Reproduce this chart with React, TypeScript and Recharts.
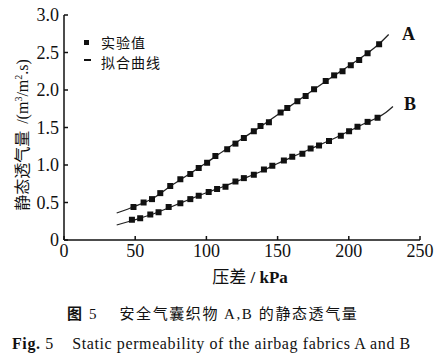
import React from "react";
import { ComposedChart, Line, Scatter, XAxis, YAxis } from "recharts";

// Experimental points, series A (pressure difference kPa, permeability m3/(m2·s))
const expAx = [48.8, 55.9, 61.8, 67.6, 74.6, 81.7, 88.7, 94.6, 100.5, 106.3, 114.6, 120.4, 126.3, 133.3, 138.0, 143.9, 152.1, 156.8, 163.9, 169.7, 175.6, 183.8, 189.7, 195.6, 201.4, 207.3, 213.2, 221.3];
const expAy = [0.44, 0.5, 0.545, 0.625, 0.72, 0.81, 0.88, 0.96, 1.03, 1.12, 1.21, 1.285, 1.36, 1.45, 1.52, 1.57, 1.7, 1.76, 1.85, 1.92, 2.01, 2.12, 2.195, 2.25, 2.33, 2.4, 2.49, 2.61];
// Experimental points, series B
const expBx = [47.7, 53.5, 60.6, 66.4, 73.5, 81.7, 88.7, 94.6, 101.6, 107.5, 113.4, 120.4, 126.3, 133.3, 140.4, 146.3, 154.4, 160.3, 167.4, 173.2, 179.1, 186.1, 194.4, 200.2, 206.1, 213.2, 220.2];
const expBy = [0.27, 0.29, 0.34, 0.37, 0.44, 0.49, 0.545, 0.59, 0.64, 0.68, 0.71, 0.78, 0.825, 0.87, 0.94, 0.99, 1.06, 1.11, 1.15, 1.22, 1.26, 1.32, 1.39, 1.45, 1.51, 1.575, 1.63];
// Fitted curves
const fitAx = [37, 50, 62, 75, 88, 100, 113, 125, 138, 150, 163, 175, 188, 200, 213, 221, 228];
const fitAy = [0.36, 0.45, 0.55, 0.72, 0.88, 1.03, 1.2, 1.35, 1.51, 1.67, 1.84, 2.0, 2.17, 2.32, 2.49, 2.61, 2.74];
const fitBx = [37, 48, 60, 75, 88, 100, 113, 125, 138, 150, 163, 175, 188, 200, 213, 220, 226, 231];
const fitBy = [0.2, 0.26, 0.33, 0.44, 0.54, 0.63, 0.72, 0.81, 0.91, 1.02, 1.13, 1.23, 1.34, 1.45, 1.57, 1.63, 1.7, 1.78];

const xTicks = [0, 50, 100, 150, 200, 250];
const yTicks = [0, 0.5, 1.0, 1.5, 2.0, 2.5, 3.0];

const zip = (xs: number[], ys: number[]) => xs.map((x, i) => ({ x, y: ys[i] }));
const expA = zip(expAx, expAy);
const expB = zip(expBx, expBy);
const fitA = zip(fitAx, fitAy);
const fitB = zip(fitBx, fitBy);

const serif = "'Liberation Serif', 'Times New Roman', serif";
const cjk = "'Noto Sans CJK SC', sans-serif";

const SquareDot = (props: any) => {
  const { cx, cy } = props;
  if (cx == null || cy == null) return null;
  return <rect x={cx - 3} y={cy - 3} width={6} height={6} fill="#111" />;
};

const YTick = (props: any) => {
  const { x, y, payload } = props;
  const v = payload.value;
  const label = v === 0 ? "0" : v.toFixed(1);
  return (
    <g>
      <line x1={x + 6} x2={x + 10} y1={y} y2={y} stroke="#111" strokeWidth={1.5} />
      <text x={x + 1} y={y} dy={6} textAnchor="end" fontFamily={serif} fontSize={18} fill="#111">
        {label}
      </text>
    </g>
  );
};

const XTick = (props: any) => {
  const { x, y, payload } = props;
  return (
    <g>
      <line x1={x} x2={x} y1={y - 4} y2={y} stroke="#111" strokeWidth={1.5} />
      <text x={x} y={y} dy={17} textAnchor="middle" fontFamily={serif} fontSize={18} fill="#111">
        {payload.value}
      </text>
    </g>
  );
};

export default function App() {
  return (
    <div style={{ position: "absolute", left: 0, top: 0, width: 441, height: 356, background: "#fff" }}>
      <ComposedChart
        width={441}
        height={356}
        margin={{ top: 15, right: 21, bottom: 86, left: 0 }}
      >
        <XAxis
          type="number"
          dataKey="x"
          domain={[0, 250]}
          ticks={xTicks}
          allowDataOverflow
          height={30}
          tickSize={0}
          tickMargin={0}
          tick={<XTick />}
          axisLine={{ stroke: "#111", strokeWidth: 1.5 }}
          tickLine={false}
        />
        <YAxis
          type="number"
          dataKey="y"
          domain={[0, 3]}
          ticks={yTicks}
          allowDataOverflow
          width={64}
          tickSize={0}
          tickMargin={6}
          tick={<YTick />}
          axisLine={{ stroke: "#111", strokeWidth: 1.5 }}
          tickLine={false}
        />
        <Line data={fitA} dataKey="y" type="monotone" stroke="#222" strokeWidth={1.3} dot={false} isAnimationActive={false} />
        <Line data={fitB} dataKey="y" type="monotone" stroke="#222" strokeWidth={1.3} dot={false} isAnimationActive={false} />
        <Scatter data={expA} dataKey="y" shape={<SquareDot />} isAnimationActive={false} />
        <Scatter data={expB} dataKey="y" shape={<SquareDot />} isAnimationActive={false} />
      </ComposedChart>

      {/* legend */}
      <div style={{ position: "absolute", left: 84, top: 40, width: 5, height: 5, background: "#111" }} />
      <div style={{ position: "absolute", left: 84, top: 59, width: 7, height: 1.5, background: "#111" }} />
      <div style={{ position: "absolute", left: 101, top: 32, fontFamily: cjk, fontSize: 14, lineHeight: "20px", color: "#111", whiteSpace: "nowrap", letterSpacing: "1px" }}>实验值</div>
      <div style={{ position: "absolute", left: 101, top: 52, fontFamily: cjk, fontSize: 14, lineHeight: "20px", color: "#111", whiteSpace: "nowrap", letterSpacing: "1px" }}>拟合曲线</div>

      {/* series labels */}
      <div style={{ position: "absolute", left: 402, top: 24, fontFamily: serif, fontSize: 18, fontWeight: "bold", color: "#111" }}>A</div>
      <div style={{ position: "absolute", left: 404, top: 94, fontFamily: serif, fontSize: 18, fontWeight: "bold", color: "#111" }}>B</div>

      {/* y-axis title */}
      <svg style={{ position: "absolute", left: 0, top: 0 }} width={60} height={260}>
        <text
          transform="translate(28,135) rotate(-90)"
          textAnchor="middle"
          fontSize={16}
          fill="#111"
        >
          <tspan fontFamily={cjk}>静态透气量</tspan>
          <tspan fontFamily={serif} dx={3}> /(m</tspan>
          <tspan fontFamily={serif} fontSize={10} dy={-6}>3</tspan>
          <tspan fontFamily={serif} dy={6}>/m</tspan>
          <tspan fontFamily={serif} fontSize={10} dy={-6}>2</tspan>
          <tspan fontFamily={serif} dy={6}>.s)</tspan>
        </text>
      </svg>

      {/* x-axis title */}
      <div style={{ position: "absolute", left: 150, width: 200, top: 263, textAlign: "center", fontSize: 17, color: "#111", whiteSpace: "nowrap" }}>
        <span style={{ fontFamily: cjk }}>压差</span>
        <span style={{ fontFamily: serif, fontWeight: "bold" }}> / kPa</span>
      </div>

      {/* captions */}
      <div style={{ position: "absolute", left: 67, top: 302, fontSize: 15, color: "#111", whiteSpace: "pre", letterSpacing: "1.6px" }}>
        <span style={{ fontFamily: cjk, fontWeight: "bold" }}>图</span>
        <span style={{ fontFamily: serif }}> 5    </span>
        <span style={{ fontFamily: cjk }}>安全气囊织物 </span>
        <span style={{ fontFamily: serif }}>A,B </span>
        <span style={{ fontFamily: cjk }}>的静态透气量</span>
      </div>
      <div style={{ position: "absolute", left: 12, top: 335, fontSize: 16, color: "#111", whiteSpace: "pre", fontFamily: serif, letterSpacing: "0.6px" }}>
        <span style={{ fontWeight: "bold" }}>Fig. </span>
        <span>5    Static permeability of the airbag fabrics A and B</span>
      </div>
    </div>
  );
}
